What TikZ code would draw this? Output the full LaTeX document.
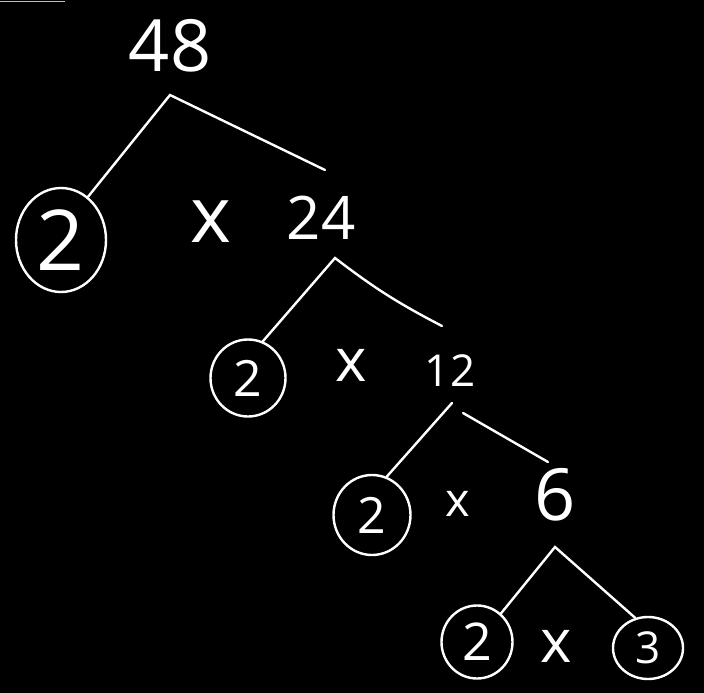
\documentclass[tikz,border=0pt]{standalone}
\usepackage{fontspec}
\setmainfont{Open Sans}
\usepackage{tikz}
\usetikzlibrary{calc, shapes.geometric}
\newcommand{\digitsize}[1]{\fontsize{#1}{#1}\selectfont}
\tikzset{
    num/.style={text=white, inner sep=0pt},
    ring/.style={ellipse, draw=white, line width=2.4pt, inner sep=0pt, text=white},
    branch/.style={white, line width=2.4pt, line cap=round}
}

\begin{document}
\begin{tikzpicture}[x=1pt, y=-1pt]
    % Background
    \fill[black] (0,0) rectangle (704,693);
    \useasboundingbox (0,0) rectangle (704,693);
    \draw[gray!50, line width=0.8pt] (0,1) -- (65,1);
    % Level 1
    \node[num, font=\digitsize{72}] (n48) at (170,46) {48};
    \node[ring, minimum width=90pt, minimum height=104pt, font=\digitsize{84}] (c1) at (61,240) {2};
    \node[num, font=\digitsize{78}] (x1) at (211,222) {x};
    \node[num, font=\digitsize{60}] (n24) at (321,218) {24};
    % Level 2
    \node[ring, minimum width=75pt, minimum height=77pt, font=\digitsize{50}] (c2) at (248,378) {2};
    \node[num, font=\digitsize{60}] (x2) at (351,365) {x};
    \node[num, font=\digitsize{44}] (n12) at (450,371) {12};
    % Level 3
    \node[ring, minimum width=77pt, minimum height=80pt, font=\digitsize{50}] (c3) at (372,515) {2};
    \node[num, font=\digitsize{47}] (x3) at (458,504) {x};
    \node[num, font=\digitsize{72}] (n6) at (555,495) {6};
    % Level 4
    \node[ring, minimum width=71pt, minimum height=73pt, font=\digitsize{52}] (c4) at (477,642) {2};
    \node[num, font=\digitsize{60}] (x4) at (556,646) {x};
    \node[ring, minimum width=70pt, minimum height=62pt, font=\digitsize{44}] (c5) at (648,648) {3};
    % Branches
    \coordinate (t48) at ($(n48)+(0,49)$);
    \coordinate (e24) at ($(n24)+(4,-48)$);
    \draw[branch] (c1.58) -- (t48) -- (e24);
    \coordinate (t24) at ($(n24)+(14,40)$);
    \coordinate (e12) at ($(n12)+(-8,-45)$);
    \draw[branch] (c2.68) -- (t24) to[bend right=5] (e12);
    \coordinate (t12a) at ($(n12)+(2,32)$);
    \coordinate (t12b) at ($(n12)+(13,42)$);
    \coordinate (e6) at ($(n6)+(-7,-33)$);
    \draw[branch] (c3.69) -- (t12a);
    \draw[branch] (t12b) -- (e6);
    \coordinate (t6) at ($(n6)+(0,52)$);
    \draw[branch] (c4.50) -- (t6) -- (c5.113);
\end{tikzpicture}
\end{document}
